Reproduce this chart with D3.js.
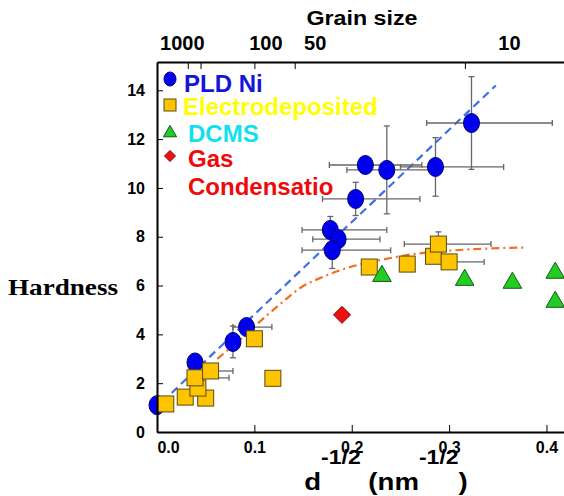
<!DOCTYPE html>
<html><head><meta charset="utf-8">
<script src="https://cdn.jsdelivr.net/npm/d3@7"></script>
<style>
html,body{margin:0;padding:0;background:#fff;}
svg{display:block;font-family:"Liberation Sans",Arial,sans-serif;}
</style></head>
<body><svg id="c" width="564" height="496"></svg>
<script>
// ---- data ----
const xTicks = [0.0, 0.1, 0.2, 0.3, 0.4];
const yTicks = [0, 2, 4, 6, 8, 10, 12, 14];
const grainTicks = [1000, 500, 100, 50, 10];
const grainLabels = ["1000", "", "100", "50", "10"];

// PLD Ni: x, H, x-err low, x-err high, y-err
const pldX  = [0.000, 0.039, 0.078, 0.092, 0.178, 0.186, 0.180, 0.204, 0.214, 0.236, 0.286, 0.323];
const pldY  = [1.10, 2.85, 3.69, 4.30, 8.28, 7.90, 7.45, 9.55, 10.94, 10.74, 10.86, 12.66];
const pldXlo= [null, null, null, 0.078, 0.149, 0.160, 0.149, 0.170, 0.177, 0.195, 0.250, 0.277];
const pldXhi= [null, null, null, 0.118, 0.236, 0.229, 0.240, 0.270, 0.272, 0.280, 0.356, 0.406];
const pldYerr=[0, 0, 0.65, 0, 0.55, 0, 0.75, 0.68, 0, 1.8, 1.2, 1.9];

// Electrodeposited
const elX  = [0.009, 0.029, 0.050, 0.042, 0.039, 0.055, 0.100, 0.119, 0.218, 0.257, 0.284, 0.289, 0.300];
const elY  = [1.15, 1.43, 1.39, 1.80, 2.22, 2.50, 3.82, 2.20, 6.76, 6.88, 7.20, 7.70, 6.97];
const elXhi= [null, null, null, null, 0.074, 0.078, null, null, null, null, null, 0.343, 0.336];
const elXlo= [null, null, null, null, null, null, null, null, null, null, null, 0.254, null];
const elYerr=[0,0,0,0,0,0,0,0,0,0,0,0.5,0];

// DCMS
const dcX = [0.231, 0.316, 0.365, 0.409, 0.409];
const dcY = [6.43, 6.27, 6.15, 6.56, 5.37];

// Gas condensation
const gcX = [0.190];
const gcY = [4.80];

// Hall-Petch fit (PLD Ni) end points, and saturating trend (Electrodeposited)
const fitX = [0.015, 0.348];
const fitY = [1.60, 14.20];
const trendX = [0.062, 0.085, 0.105, 0.128, 0.147, 0.170, 0.195, 0.230, 0.262, 0.320, 0.380];
const trendY = [3.00, 3.77, 4.50, 5.29, 5.90, 6.35, 6.72, 7.05, 7.28, 7.48, 7.56];

const legendNames = ["PLD Ni", "Electrodeposited", "DCMS", "Gas", "Condensatio"];

// ---- chart ----
const svg = d3.select("#c");
const x = d3.scaleLinear().domain([0, 0.418]).range([157, 564]);
const y = d3.scaleLinear().domain([0, 15.16]).range([432, 62]);

const blueFill = "#0000ee", yellowFill = "#ffc400", greenFill = "#22cc22", redFill = "#ee1111";

// trend lines
svg.append("path")
  .attr("d", d3.line().x(d => x(d[0])).y(d => y(d[1]))(fitX.map((v, i) => [v, fitY[i]])))
  .attr("fill", "none").attr("stroke", "#3f6fe6").attr("stroke-width", 2.2)
  .attr("stroke-dasharray", "8,5");
svg.append("path")
  .attr("d", d3.line().curve(d3.curveMonotoneX).x(d => x(d[0])).y(d => y(d[1]))(trendX.map((v, i) => [v, trendY[i]])))
  .attr("fill", "none").attr("stroke", "#f07022").attr("stroke-width", 2.2)
  .attr("stroke-dasharray", "8,4,2,4");

// error bars
const eb = svg.append("g").attr("stroke", "#666").attr("stroke-width", 1.3).attr("fill", "none");
function errBars(xs, ys, xlo, xhi, yerr) {
  xs.forEach((xv, i) => {
    const cx = x(xv), cy = y(ys[i]);
    if (xlo[i] != null || xhi[i] != null) {
      const a = xlo[i] != null ? x(xlo[i]) : cx, b = xhi[i] != null ? x(xhi[i]) : cx;
      eb.append("line").attr("x1", a).attr("x2", b).attr("y1", cy).attr("y2", cy);
      if (xlo[i] != null) eb.append("line").attr("x1", a).attr("x2", a).attr("y1", cy - 3).attr("y2", cy + 3);
      if (xhi[i] != null) eb.append("line").attr("x1", b).attr("x2", b).attr("y1", cy - 3).attr("y2", cy + 3);
    }
    if (yerr[i]) {
      const t = y(ys[i] + yerr[i]), bt = y(ys[i] - yerr[i]);
      eb.append("line").attr("x1", cx).attr("x2", cx).attr("y1", t).attr("y2", bt);
      eb.append("line").attr("x1", cx - 3).attr("x2", cx + 3).attr("y1", t).attr("y2", t);
      eb.append("line").attr("x1", cx - 3).attr("x2", cx + 3).attr("y1", bt).attr("y2", bt);
    }
  });
}
errBars(pldX, pldY, pldXlo, pldXhi, pldYerr);
errBars(elX, elY, elXlo, elXhi, elYerr);

// markers
svg.append("g").selectAll("ellipse").data(pldX).join("ellipse")
  .attr("cx", d => x(d)).attr("cy", (d, i) => y(pldY[i])).attr("rx", 8).attr("ry", 9.5)
  .attr("fill", blueFill).attr("stroke", "#00007a").attr("stroke-width", 1);
svg.append("g").selectAll("rect").data(elX).join("rect")
  .attr("x", d => x(d) - 8).attr("y", (d, i) => y(elY[i]) - 8).attr("width", 16).attr("height", 16)
  .attr("fill", yellowFill).attr("stroke", "#5a4a10").attr("stroke-width", 1);
const tri = d3.symbol().type(d3.symbolTriangle).size(150);
svg.append("g").selectAll("path").data(dcX).join("path")
  .attr("d", tri).attr("transform", (d, i) => `translate(${x(d)},${y(dcY[i]) + 1})`)
  .attr("fill", greenFill).attr("stroke", "#145a14").attr("stroke-width", 1);
svg.append("g").selectAll("path").data(gcX).join("path")
  .attr("d", "M0,-8.5L8.5,0L0,8.5L-8.5,0Z").attr("transform", (d, i) => `translate(${x(d)},${y(gcY[i])})`)
  .attr("fill", redFill).attr("stroke", "#8a0000").attr("stroke-width", 1);

// axes
const axStyle = g => {
  g.select(".domain").attr("stroke", "#000").attr("stroke-width", 2);
  g.selectAll(".tick line").attr("stroke", "#000").attr("stroke-width", 1);
  g.selectAll("text").attr("fill", "#000").attr("font-weight", "bold")
    .attr("font-family", "Liberation Sans, Arial, sans-serif");
};
svg.append("g").attr("transform", "translate(0,432)")
  .call(d3.axisBottom(x).tickValues(xTicks).tickFormat(d3.format(".1f")).tickSizeInner(-7).tickSizeOuter(0).tickPadding(10))
  .call(axStyle)
  .call(g => g.selectAll("text").attr("font-size", 16).attr("dx", d => d === 0 ? 11 : 0));
svg.append("g").attr("transform", "translate(157,0)")
  .call(d3.axisLeft(y).tickValues(yTicks).tickFormat(d3.format("d")).tickSizeInner(-6).tickSizeOuter(0).tickPadding(12))
  .call(axStyle)
  .call(g => g.selectAll("text").attr("font-size", 16));
const labDx = {1000: -6, 500: 0, 100: 11, 50: 20, 10: 44};
svg.append("g").attr("transform", "translate(0,62)")
  .call(d3.axisTop(x).tickValues(grainTicks.map(d => 1 / Math.sqrt(d)))
    .tickFormat((d, i) => grainLabels[i]).tickSizeInner(-7).tickSizeOuter(0).tickPadding(12))
  .call(axStyle)
  .call(g => g.selectAll("text").attr("font-size", 20).attr("dx", (d, i) => labDx[grainTicks[i]]));

// titles
svg.append("text").attr("x", 362).attr("y", 25).attr("text-anchor", "middle")
  .attr("font-size", 20).attr("font-weight", "bold").attr("textLength", 111).attr("lengthAdjust", "spacingAndGlyphs")
  .text("Grain size");
svg.append("text").attr("x", 8).attr("y", 295)
  .attr("font-family", "Liberation Serif, Times New Roman, serif")
  .attr("font-size", 23).attr("font-weight", "bold").attr("textLength", 110).attr("lengthAdjust", "spacingAndGlyphs")
  .text("Hardness");
const xt = svg.append("text").attr("transform", "translate(386,490) scale(1.15,1)").attr("text-anchor", "middle")
  .attr("font-size", 24).attr("font-weight", "bold");
xt.append("tspan").text("d");
xt.append("tspan").attr("font-size", 20).attr("dy", -26).text("-1/2");
xt.append("tspan").attr("dy", 26).text(" (nm");
xt.append("tspan").attr("font-size", 20).attr("dy", -26).text("-1/2");
xt.append("tspan").attr("dy", 26).text(")");

// legend
const lg = svg.append("g");
lg.append("ellipse").attr("cx", 170).attr("cy", 79).attr("rx", 6).attr("ry", 7).attr("fill", blueFill).attr("stroke", "#00007a");
lg.append("rect").attr("x", 164).attr("y", 99).attr("width", 12).attr("height", 12).attr("fill", yellowFill).attr("stroke", "#5a4a10");
lg.append("path").attr("d", d3.symbol().type(d3.symbolTriangle).size(75)).attr("transform", "translate(170,133)")
  .attr("fill", greenFill).attr("stroke", "#145a14");
lg.append("path").attr("d", "M0,-5.5L5.5,0L0,5.5L-5.5,0Z").attr("transform", "translate(170,156)").attr("fill", redFill).attr("stroke", "#8a0000");
const legendColors = ["#1414dc", "#ffff00", "#11e0ee", "#ee0a0a", "#ee0a0a"];
const legendPos = [[184, 92], [183, 115], [188, 142], [188, 167], [188, 195]];
legendNames.forEach((n, i) => {
  lg.append("text").attr("x", legendPos[i][0]).attr("y", legendPos[i][1])
    .attr("font-size", 24).attr("font-weight", "bold").attr("fill", legendColors[i]).text(n);
});
</script></body></html>
